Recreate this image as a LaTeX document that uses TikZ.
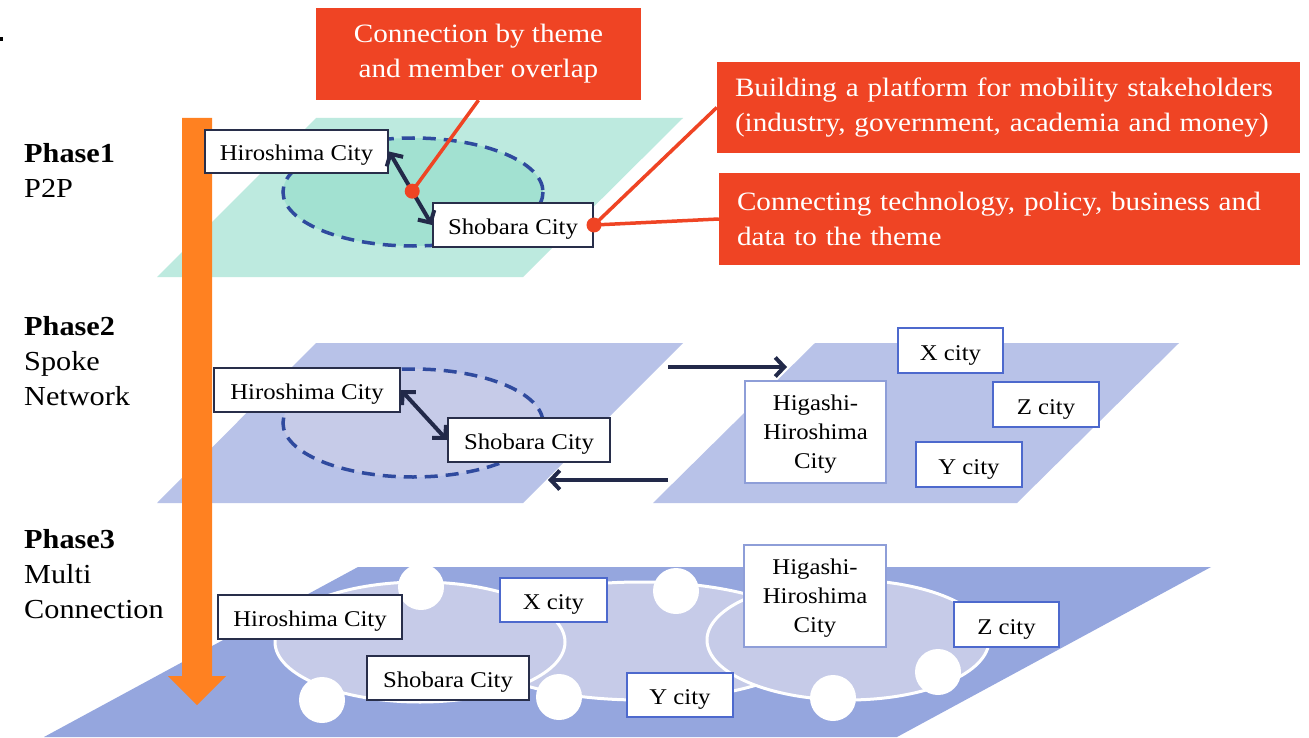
\documentclass[tikz,border=0pt]{standalone}
\usepackage{fontspec}
\setmainfont{Liberation Serif}[FakeStretch=1.1]
\usetikzlibrary{arrows.meta}

\definecolor{calloutred}{HTML}{EF4424}
\definecolor{phasearrow}{HTML}{FF8121}
\definecolor{mintplane}{HTML}{BDEADF}
\definecolor{mintcore}{HTML}{A2E1D1}
\definecolor{ringblue}{HTML}{2F4A9E}
\definecolor{lavplane}{HTML}{B8C2E8}
\definecolor{lavcore}{HTML}{C6CBE8}
\definecolor{deepplane}{HTML}{95A6DE}
\definecolor{linknavy}{HTML}{222949}
\definecolor{boxnavy}{HTML}{282E4A}
\definecolor{boxblue}{HTML}{4D69CD}
\definecolor{boxpale}{HTML}{8E9ED8}

\tikzset{
  cityframe/.style={draw=boxnavy, line width=2pt, fill=white, inner sep=0pt,
    text depth=0pt, font=\fontsize{22.5}{29}\selectfont, align=center},
  city/.style={cityframe, text height=19pt},
  cityblue/.style={city, draw=boxblue},
  citypale/.style={cityframe, draw=boxpale},
  callout/.style={fill=calloutred, text=white, inner sep=0pt,
    font=\fontsize{26.5}{35}\selectfont, align=center},
  calloutwide/.style={callout, align=left, inner xsep=18pt},
  phaselabel/.style={anchor=base west, inner sep=0pt,
    font=\fontsize{27.5}{35}\selectfont},
  ring/.style={draw=ringblue, line width=3.5pt, dash pattern=on 13pt off 8pt},
  cluster/.style={fill=lavcore, draw=white, line width=3pt},
  twoway/.style={draw=linknavy, line width=4pt,
    {Straight Barb[length=9pt,width=19pt]}-{Straight Barb[length=9pt,width=19pt]}},
  oneway/.style={draw=linknavy, line width=4pt,
    -{Straight Barb[length=9pt,width=19pt]}},
  leader/.style={draw=calloutred, line width=3.5pt},
}

\begin{document}
\begin{tikzpicture}[x=1pt,y=-1pt]
\useasboundingbox (0,0) rectangle (1309,738);
\fill[white] (0,0) rectangle (1309,738);
\fill[black] (0,37) rectangle (3,41);

% layer planes
\fill[mintplane] (157,277) -- (523,277) -- (683,118) -- (316,118) -- cycle;
\fill[lavplane] (157,503) -- (523,503) -- (683,343) -- (316,343) -- cycle;
\fill[lavplane] (653,503) -- (1017,503) -- (1179,343) -- (815,343) -- cycle;
\fill[deepplane] (44,737) -- (897,737) -- (1211,567) -- (358,567) -- cycle;

% dashed theme rings
\draw[ring, fill=mintcore] (413,192) ellipse [x radius=130, y radius=54];
\draw[ring, fill=lavcore] (413,423) ellipse [x radius=130, y radius=54];

% chained clusters of phase 3
\draw[cluster] (640,641) ellipse [x radius=175, y radius=59];
\draw[cluster] (420,642) ellipse [x radius=145, y radius=60];
\draw[cluster] (848,640) ellipse [x radius=141, y radius=60];
\foreach \cx/\cy in {421/587, 676/591, 322/700, 559/697, 833/698, 938/672}
  \fill[white] (\cx,\cy) circle (23);

% phase progression arrow
\fill[phasearrow] (182,118) -- (212,118) -- (212,676) -- (226,676)
  -- (197,705) -- (168,676) -- (182,676) -- cycle;

% phase labels
\node[phaselabel] (p1a) at (24,163) {\textbf{Phase1}};
\node[phaselabel] (p1b) at (24,198) {P2P};
\node[phaselabel] (p2a) at (24,335) {\textbf{Phase2}};
\node[phaselabel] (p2b) at (24,370) {Spoke};
\node[phaselabel] (p2c) at (24,405) {Network};
\node[phaselabel] (p3a) at (24,548) {\textbf{Phase3}};
\node[phaselabel] (p3b) at (24,583) {Multi};
\node[phaselabel] (p3c) at (24,618) {Connection};

% phase 1 cities
\node[city, minimum width=183pt, minimum height=43pt] (h1) at (296.5,151.5) {Hiroshima City};
\node[city, minimum width=160pt, minimum height=44pt] (s1) at (513,225) {Shobara City};

% phase 2 cities
\node[city, minimum width=186pt, minimum height=44pt] (h2) at (307,390) {Hiroshima City};
\node[city, minimum width=162pt, minimum height=44pt] (s2) at (529,440) {Shobara City};
\node[citypale, minimum width=141pt, minimum height=102pt] (g2) at (815.5,432) {Higashi-\\Hiroshima\\City};
\node[cityblue, minimum width=105pt, minimum height=45pt] (x2) at (950.5,350.5) {X city};
\node[cityblue, minimum width=106pt, minimum height=45pt] (z2) at (1046,404.5) {Z city};
\node[cityblue, minimum width=106pt, minimum height=45pt] (y2) at (969,464.5) {Y city};

% phase 3 cities
\node[city, minimum width=184pt, minimum height=44pt] (h3) at (310,617) {Hiroshima City};
\node[city, minimum width=162pt, minimum height=44pt] (s3) at (448,678) {Shobara City};
\node[cityblue, minimum width=107pt, minimum height=44pt] (x3) at (553.5,600) {X city};
\node[cityblue, minimum width=106pt, minimum height=44pt] (y3) at (680,695) {Y city};
\node[citypale, minimum width=142pt, minimum height=102pt] (g3) at (815,596) {Higashi-\\Hiroshima\\City};
\node[cityblue, minimum width=105pt, minimum height=45pt] (z3) at (1006.5,624.5) {Z city};

% links between cities
\draw[twoway] (h1.east) -- coordinate[pos=0.54] (d1) (s1.west);
\draw[twoway] (h2.east) -- (s2.west);

% exchange between the two spoke planes
\coordinate (fwd0) at (668,367);
\coordinate (fwd1) at (787,367);
\coordinate (back0) at (668,480);
\coordinate (back1) at (548,480);
\draw[oneway] (fwd0) -- (fwd1);
\draw[oneway] (back0) -- (back1);

% callouts
\node[callout, minimum width=325pt, minimum height=92pt] (c1) at (478.5,54)
  {Connection by theme\\and member overlap};
\node[calloutwide, text width=547pt, minimum height=91pt] (c2) at (1008.5,107.5)
  {Building a platform for mobility stakeholders\\(industry, government, academia and money)};
\node[calloutwide, text width=545pt, minimum height=92pt] (c3) at (1009.5,219)
  {Connecting technology, policy, business and\\data to the theme};

% leader lines
\coordinate (d2) at (s1.east);
\draw[leader] (d1) -- (c1.south);
\draw[leader] (d2) -- (c2.west);
\draw[leader] (d2) -- (c3.west);
\fill[calloutred] (d1) circle (7.5);
\fill[calloutred] (d2) circle (7.5);
\end{tikzpicture}
\end{document}
